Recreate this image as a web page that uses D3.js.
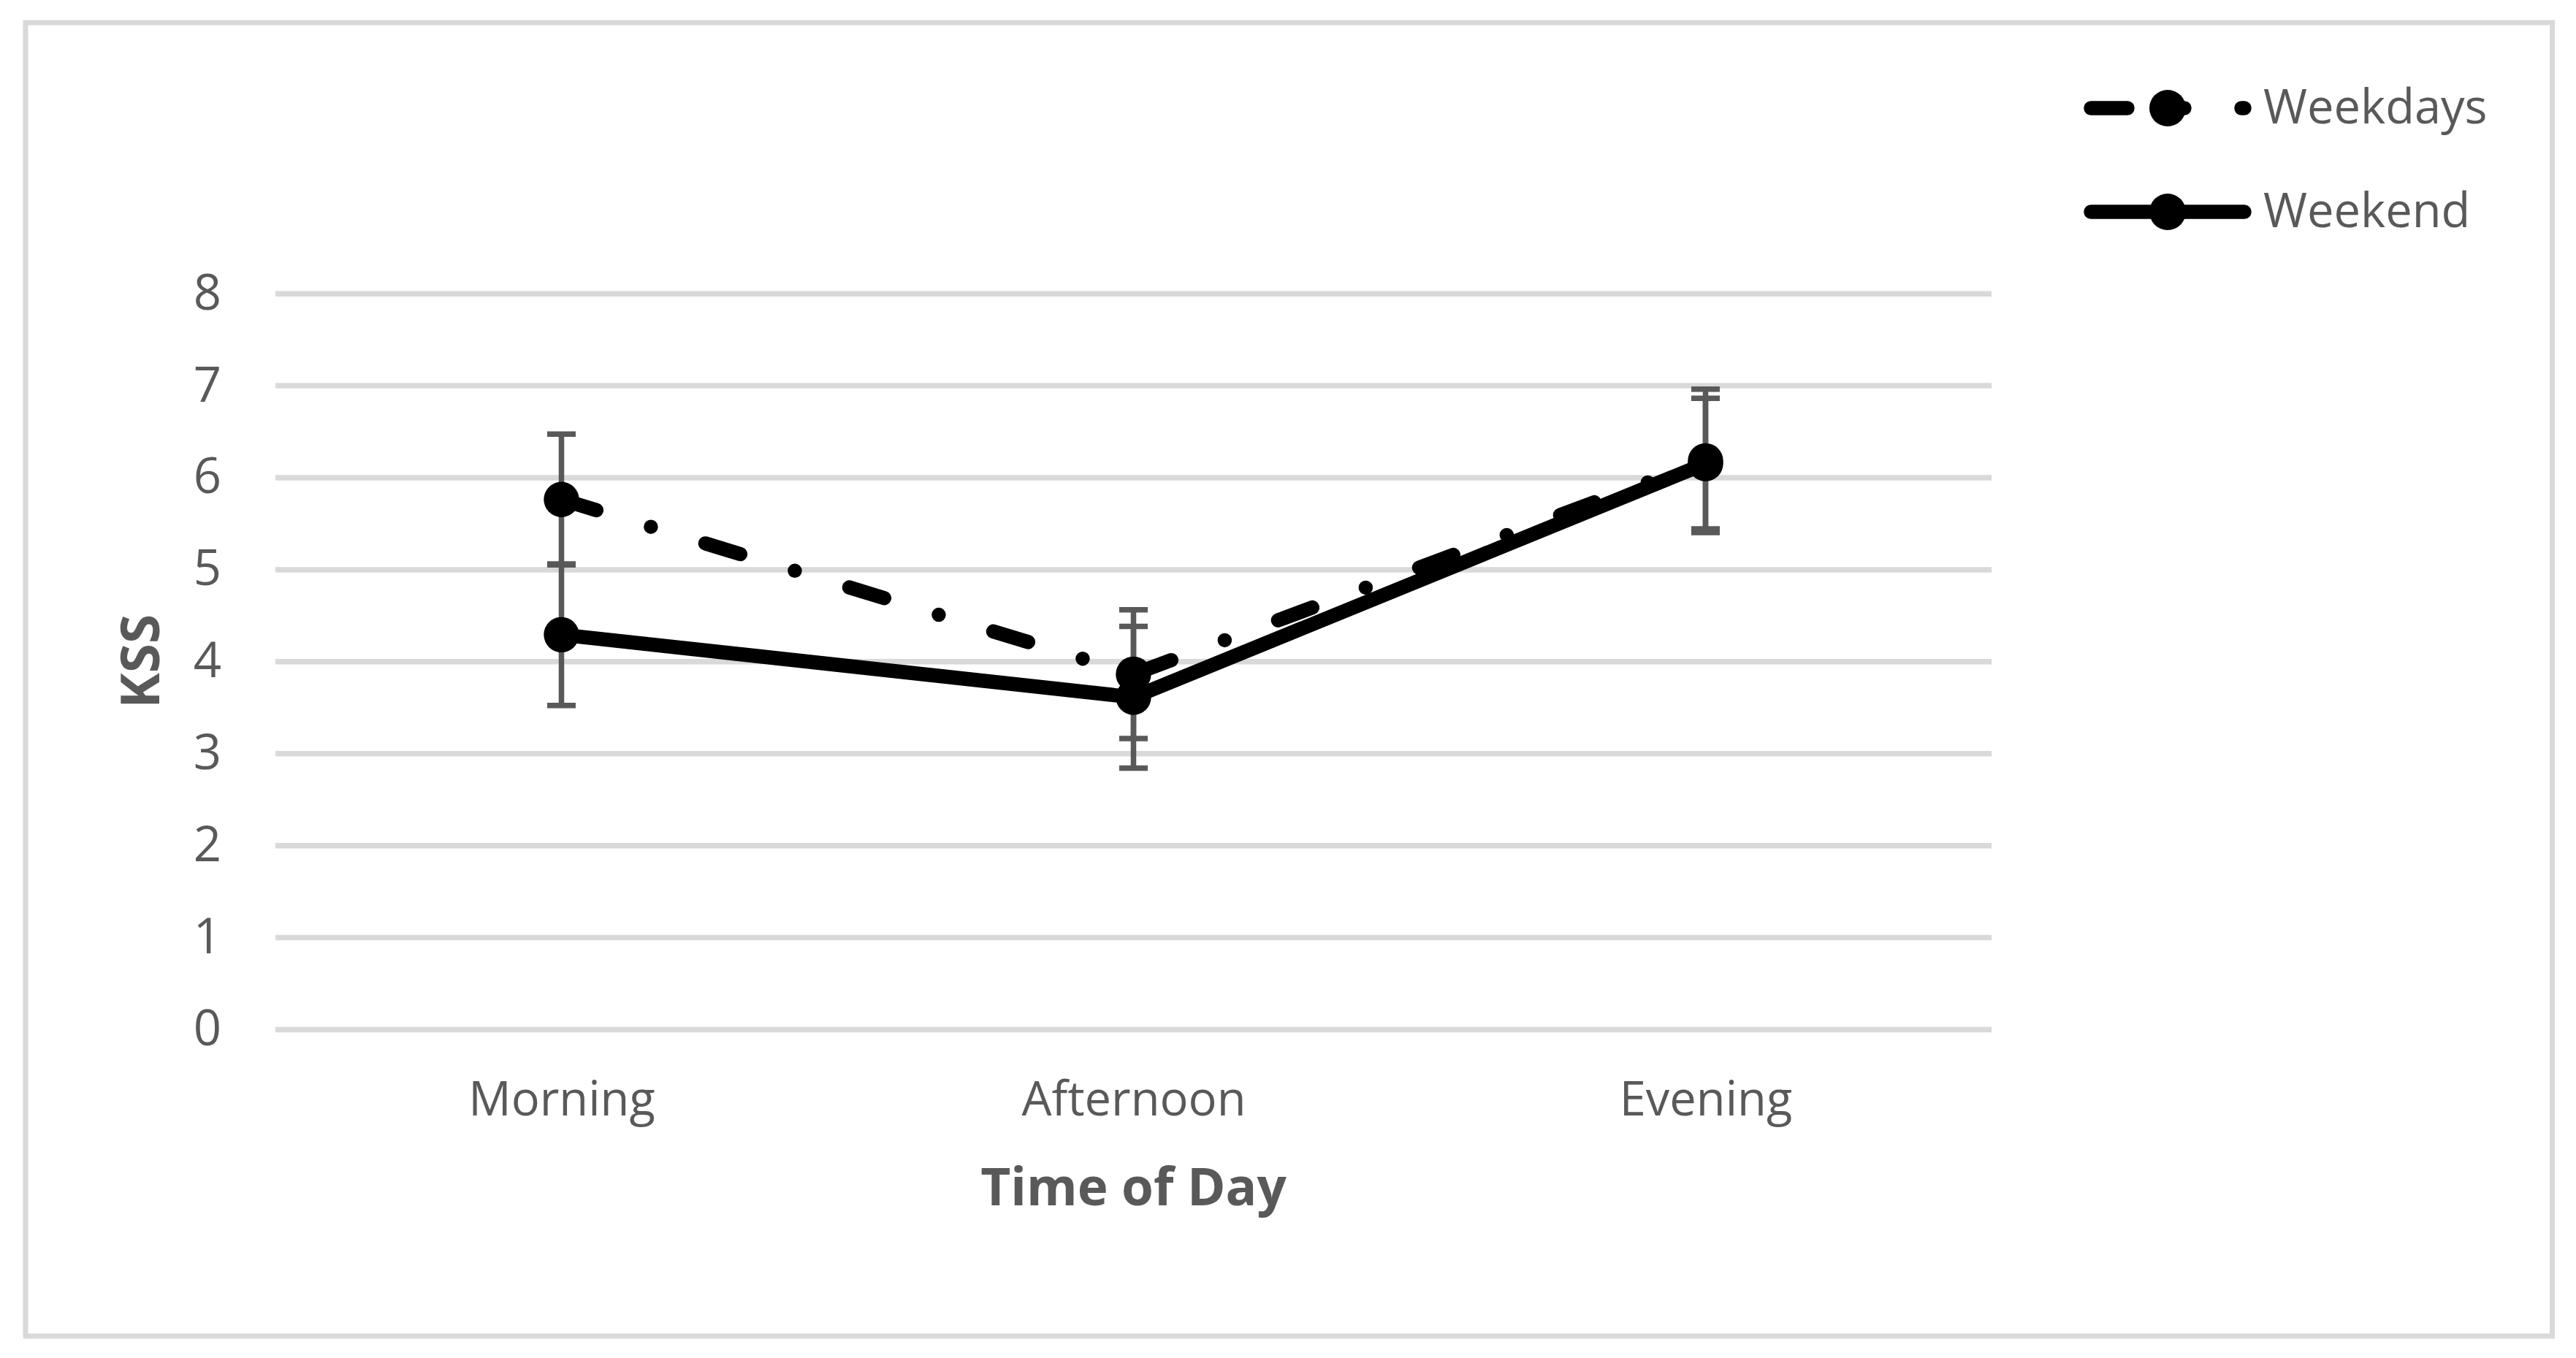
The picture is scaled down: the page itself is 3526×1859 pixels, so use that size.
<!DOCTYPE html>
<html>
<head>
<meta charset="utf-8">
<title>KSS by Time of Day</title>
<script src="https://cdn.jsdelivr.net/npm/d3@7"></script>
<style>
  body { margin: 0; background: #fff; }
  svg { display: block; }
</style>
</head>
<body>
<div id="chart"></div>
<script>
// Data
const categories = ['Morning', 'Afternoon', 'Evening'];
const yTicks = [0, 1, 2, 3, 4, 5, 6, 7, 8];

const weekdaysMean = [5.76, 3.86, 6.18];
const weekdaysErr = [0.71, 0.70, 0.78];

const weekendMean = [4.29, 3.61, 6.15];
const weekendErr = [0.77, 0.77, 0.71];

const seriesNames = ['Weekdays', 'Weekend'];

// Layout
const W = 3526;
const H = 1859;
const plot = { left: 377, right: 2726, top: 401.7, bottom: 1409 };

const textColor = '#595959';
const gridColor = '#d9d9d9';
const lineWidth = 19.5;
const markerR = 24.2;
const dashPattern = '50 78 0 78'; // long dash - dot

const svg = d3.select('#chart')
  .append('svg')
  .attr('width', W)
  .attr('height', H);

svg.append('rect')
  .attr('width', W)
  .attr('height', H)
  .attr('fill', '#fff');

// Chart area border
svg.append('rect')
  .attr('x', 35)
  .attr('y', 31)
  .attr('width', 3493.5 - 35)
  .attr('height', 1829 - 31)
  .attr('fill', 'none')
  .attr('stroke', gridColor)
  .attr('stroke-width', 7);

// Scales
const x = d3.scalePoint()
  .domain(categories)
  .range([plot.left, plot.right])
  .padding(0.5);

const y = d3.scaleLinear()
  .domain([0, 8])
  .range([plot.bottom, plot.top]);

// Y axis with gridlines
const yAxis = svg.append('g')
  .attr('transform', `translate(${plot.left},0)`)
  .call(d3.axisLeft(y)
    .tickValues(yTicks)
    .tickFormat(d3.format('d'))
    .tickSize(-(plot.right - plot.left))
    .tickPadding(74));

yAxis.select('.domain').remove();
yAxis.selectAll('.tick line')
  .attr('stroke', gridColor)
  .attr('stroke-width', 7.5);
yAxis.selectAll('.tick text')
  .attr('fill', textColor)
  .style('font-family', '"Open Sans", sans-serif')
  .style('font-size', '67px');

// X axis (category labels only)
const xAxis = svg.append('g')
  .attr('transform', `translate(0,${plot.bottom})`)
  .call(d3.axisBottom(x).tickSize(0).tickPadding(72));

xAxis.select('.domain').remove();
xAxis.selectAll('.tick text')
  .attr('fill', textColor)
  .style('font-family', '"Open Sans", sans-serif')
  .style('font-size', '65px');

// Axis titles
svg.append('text')
  .attr('x', (plot.left + plot.right) / 2)
  .attr('y', 1650)
  .attr('text-anchor', 'middle')
  .attr('fill', textColor)
  .style('font-family', '"Open Sans", sans-serif')
  .style('font-size', '71px')
  .style('font-weight', 'bold')
  .text('Time of Day');

svg.append('text')
  .attr('transform', `translate(218,${(plot.top + plot.bottom) / 2}) rotate(-90)`)
  .attr('text-anchor', 'middle')
  .attr('fill', textColor)
  .style('font-family', '"Open Sans", sans-serif')
  .style('font-size', '73px')
  .style('font-weight', 'bold')
  .text('KSS');

// Series setup
const series = [
  { name: seriesNames[0], mean: weekdaysMean, err: weekdaysErr, dash: dashPattern },
  { name: seriesNames[1], mean: weekendMean, err: weekendErr, dash: null }
];

// Error bars (drawn below lines and markers)
const capHalf = 19.5;
series.forEach(s => {
  const g = svg.append('g')
    .attr('stroke', textColor)
    .attr('stroke-width', 7.5);

  categories.forEach((c, i) => {
    const cx = x(c);
    const hi = y(s.mean[i] + s.err[i]);
    const lo = y(s.mean[i] - s.err[i]);

    g.append('line')
      .attr('x1', cx).attr('x2', cx)
      .attr('y1', hi).attr('y2', lo);

    [hi, lo].forEach(yy => {
      g.append('line')
        .attr('x1', cx - capHalf).attr('x2', cx + capHalf)
        .attr('y1', yy).attr('y2', yy);
    });
  });
});

// Lines and markers
const line = d3.line()
  .x((d, i) => x(categories[i]))
  .y(d => y(d));

series.forEach(s => {
  svg.append('path')
    .datum(s.mean)
    .attr('d', line)
    .attr('fill', 'none')
    .attr('stroke', '#000')
    .attr('stroke-width', lineWidth)
    .attr('stroke-linecap', 'round')
    .attr('stroke-linejoin', 'round')
    .attr('stroke-dasharray', s.dash);

  svg.append('g')
    .selectAll('circle')
    .data(s.mean)
    .join('circle')
    .attr('cx', (d, i) => x(categories[i]))
    .attr('cy', d => y(d))
    .attr('r', markerR)
    .attr('fill', '#000');
});

// Legend
const legendRows = [148, 290];
const legendX0 = 2862;
const legendX1 = 3072;

series.forEach((s, i) => {
  const ly = legendRows[i];
  const g = svg.append('g').attr('class', 'legend');

  g.append('line')
    .attr('x1', legendX0).attr('x2', legendX1)
    .attr('y1', ly).attr('y2', ly)
    .attr('stroke', '#000')
    .attr('stroke-width', lineWidth)
    .attr('stroke-linecap', 'round')
    .attr('stroke-dasharray', s.dash);

  g.append('circle')
    .attr('cx', (legendX0 + legendX1) / 2)
    .attr('cy', ly)
    .attr('r', 25)
    .attr('fill', '#000');

  g.append('text')
    .attr('x', 3098)
    .attr('y', ly + 20.5)
    .attr('fill', textColor)
    .style('font-family', '"Open Sans", sans-serif')
    .style('font-size', '65px')
    .text(s.name);
});
</script>
</body>
</html>
